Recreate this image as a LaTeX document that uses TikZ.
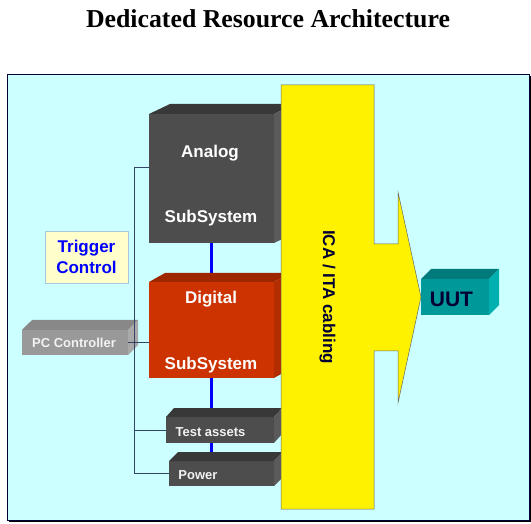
\documentclass[tikz,border=0pt]{standalone}
\usepackage{fontspec}
\setmainfont{Liberation Serif}
\newfontfamily\arialfont{Liberation Sans}
\usetikzlibrary{calc}
\definecolor{bgcyan}{HTML}{CCFFFF}
\definecolor{frameblue}{HTML}{000033}
\definecolor{anafront}{HTML}{4D4D4D}
\definecolor{anatop}{HTML}{383838}
\definecolor{anaside}{HTML}{5A5A5A}
\definecolor{digfront}{HTML}{CC3300}
\definecolor{digtop}{HTML}{9E2700}
\definecolor{digside}{HTML}{B32D00}
\definecolor{pcfront}{HTML}{999999}
\definecolor{pctop}{HTML}{888888}
\definecolor{pcside}{HTML}{A9A9A9}
\definecolor{uutfront}{HTML}{009999}
\definecolor{uuttop}{HTML}{007A7A}
\definecolor{uutside}{HTML}{00B0B0}
\definecolor{trigfill}{HTML}{FFFFCC}
\definecolor{trigline}{HTML}{A8C8E0}
\definecolor{wirec}{HTML}{334466}
\definecolor{darknavy}{HTML}{000033}
\tikzset{
  face/.style={inner sep=0pt, outer sep=0pt},
  lbl/.style={anchor=base, inner sep=0pt, text=white, font=\arialfont\bfseries\fontsize{17}{20}\selectfont},
  smlbl/.style={lbl, text=black!5, font=\arialfont\bfseries\fontsize{13}{15}\selectfont},
  trigbox/.style={face, fill=trigfill, draw=trigline, line width=0.6pt, align=center, text=blue,
    minimum width=83, minimum height=52, font=\arialfont\bfseries\fontsize{17}{21}\selectfont},
  wire/.style={draw=wirec, line width=0.9pt},
  bus/.style={draw=blue, line width=2.5pt},
  cable/.style={fill=yellow, draw=black!60, line width=0.5pt},
}
% top and right faces of a box node: name, dx, dy, top colour, side colour
\newcommand{\boxdepth}[5]{%
  \fill[#4] (#1.north west) -- ++(#2,-#3) -- ([shift={(#2,-#3)}]#1.north east) -- (#1.north east) -- cycle;
  \fill[#5] (#1.north east) -- ([shift={(#2,-#3)}]#1.north east) -- ([shift={(#2,-#3)}]#1.south east) -- (#1.south east) -- cycle;
}

\begin{document}
\begin{tikzpicture}[x=1pt, y=-1pt]
  \useasboundingbox (0,0) rectangle (531,524);
  % title
  \node[anchor=base, inner sep=0pt, font=\bfseries\fontsize{25.8}{30}\selectfont] (title) at (268,27.5) {Dedicated Resource Architecture};
  % background panel
  \fill[black] (9,76) rectangle (531,522);
  \draw[fill=bgcyan, draw=frameblue, line width=0.8pt] (7,74) rectangle (529,520);

  % box fronts
  \node[face, minimum width=125, minimum height=129] (analog) at (211.5,178.5) {};
  \node[face, minimum width=125, minimum height=96] (digital) at (211.5,330) {};
  \node[face, minimum width=108, minimum height=26] (test) at (220,430) {};
  \node[face, minimum width=105, minimum height=25] (power) at (221.5,473.5) {};
  \node[face, minimum width=106, minimum height=25] (pc) at (75,342.5) {};

  % blue link behind the boxes
  \draw[bus] (analog.south) -- (analog.south |- power.north);

  % analog
  \fill[anafront] (analog.north west) rectangle (analog.south east);
  \boxdepth{analog}{21}{10}{anatop}{anaside}
  \node[lbl] (analogA) at (210,158) {Analog};
  \node[lbl] (analogB) at (211,223) {SubSystem};
  % digital
  \fill[digfront] (digital.north west) rectangle (digital.south east);
  \boxdepth{digital}{16}{9}{digtop}{digside}
  \node[lbl] (digitalA) at (211,304) {Digital};
  \node[lbl] (digitalB) at (211,370) {SubSystem};
  % test assets / power
  \fill[anafront] (test.north west) rectangle (test.south east);
  \boxdepth{test}{8}{9}{anatop}{anaside}
  \node[smlbl] (testlbl) at (210.5,436) {Test assets};
  \fill[anafront] (power.north west) rectangle (power.south east);
  \boxdepth{power}{9}{9}{anatop}{anaside}
  \node[smlbl] (powerlbl) at (198,479) {Power};
  % pc controller
  \fill[pcfront] (pc.north west) rectangle (pc.south east);
  \boxdepth{pc}{10}{10}{pctop}{pcside}
  \node[smlbl] (pclbl) at (74,348) {PC Controller};

  % control wiring
  \coordinate (bustop) at (134,167);
  \coordinate (busbot) at (134,473.5);
  \draw[wire] (bustop -| analog.west) -- (bustop) -- (busbot) -- (power.west);
  \draw[wire] (test.west) -- (test.west -| bustop);
  \draw[wire] (pc.east) -- (digital.west |- pc.east);

  % trigger
  \node[trigbox] (trigger) at (86.5,257) {Trigger\\Control};

  % ICA / ITA cabling arrow
  \draw[cable] (281,85) -- (374,85) -- (374,244) -- (398,244) -- (398,192) -- (421,297)
     -- (398,403) -- (398,351) -- (374,351) -- (374,509) -- (281,509) -- cycle;
  \node[lbl, text=darknavy, rotate=-90] (cabling) at (323,297) {ICA / ITA cabling};

  % UUT
  \node[face, fill=uutfront, minimum width=68, minimum height=36] (uut) at (455,297) {};
  \boxdepth{uut}{10}{10}{uuttop}{uutside}
  \node[lbl, text=darknavy, font=\arialfont\bfseries\fontsize{21}{24}\selectfont] (uutlbl) at (451.5,306) {UUT};
\end{tikzpicture}
\end{document}
